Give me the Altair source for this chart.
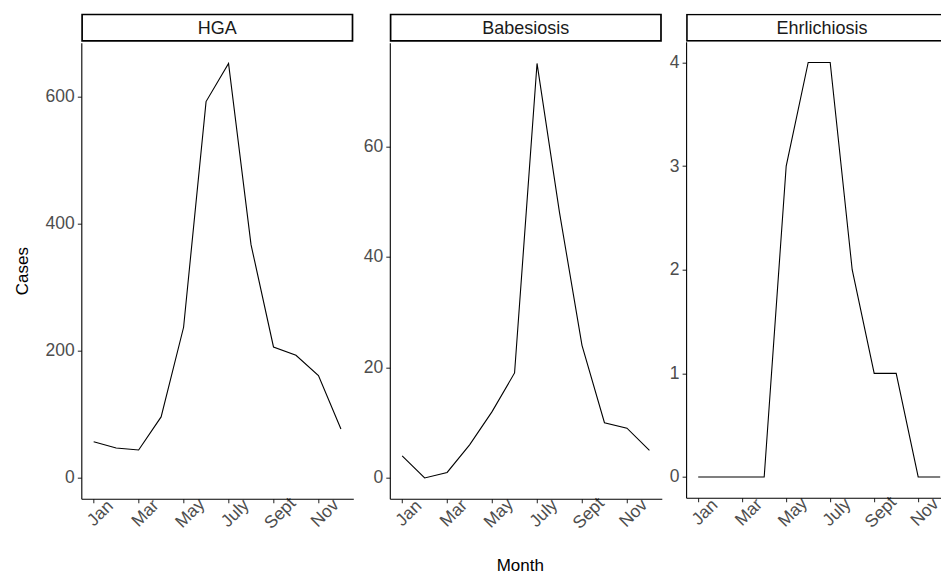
import altair as alt
import pandas as pd

# ---- data ----
months = list(range(1, 13))
month_labels = ["Jan", "Feb", "Mar", "Apr", "May", "June", "July", "Aug", "Sept", "Oct", "Nov", "Dec"]
diseases = ["HGA", "Babesiosis", "Ehrlichiosis"]
hga = [57, 47, 44, 96, 237, 592, 652, 367, 206, 193, 161, 77]
babesiosis = [4, 0, 1, 6, 12, 19, 75, 48, 24, 10, 9, 5]
ehrlichiosis = [0, 0, 0, 0, 3, 4, 4, 2, 1, 1, 0, 0]
series = [hga, babesiosis, ehrlichiosis]
y_ticks = [[0, 200, 400, 600], [0, 20, 40, 60], [0, 1, 2, 3, 4]]
x_ticks = [1, 3, 5, 7, 9, 11]

FONT = "Liberation Sans, Arial, sans-serif"
PW = 272      # panel width
PH = 456      # panel height
SH = 28       # strip height
DPM = PW / 12.1  # px per month

label_expr = "[" + ",".join("'%s'" % m for m in month_labels) + "][datum.value - 1]"


def column(name, vals, ticks, width, dpm, show_ytitle, show_xtitle):
    df = pd.DataFrame({"Month": months, "Cases": vals, "Disease": name})
    lo = min(0, min(vals))
    hi = max(vals)
    pad = 0.05 * (hi - lo)
    xmax = 0.45 + width / dpm
    clipped = width < PW

    xaxis = alt.Axis(
        values=x_ticks, labelExpr=label_expr, labelAngle=-45,
        labelAlign="center", labelBaseline="top", labelPadding=4,
        title="Month" if show_xtitle else None,
        titlePadding=26,
        **({"titleX": 130} if show_xtitle else {}),
    )
    yaxis = alt.Axis(values=ticks, title="Cases" if show_ytitle else None,
                     titlePadding=14, labelPadding=3)

    line = alt.Chart(df).mark_line(color="black", strokeWidth=1.1, clip=clipped).encode(
        x=alt.X("Month:Q", scale=alt.Scale(domain=[0.45, xmax], nice=False, zero=False), axis=xaxis),
        y=alt.Y("Cases:Q", scale=alt.Scale(domain=[lo - pad, hi + pad], nice=False, zero=False), axis=yaxis),
    ).properties(width=width, height=PH)

    sdf = pd.DataFrame({"Disease": [name]})
    rect = alt.Chart(sdf).mark_rect(
        fill="white", stroke="black", strokeWidth=1.7, clip=clipped
    ).encode(
        x=alt.value(0.8), x2=alt.value(PW + 10 if clipped else width - 0.8),
        y=alt.value(0.8), y2=alt.value(SH - 0.8),
    )
    txt = alt.Chart(sdf).mark_text(
        font=FONT, fontSize=18, color="#1a1a1a", baseline="middle", align="center"
    ).encode(text="Disease:N", x=alt.value(PW / 2), y=alt.value(SH / 2 + 1))
    strip = alt.layer(rect, txt).properties(width=width, height=SH)
    return alt.vconcat(strip, line, spacing=0)


c1 = column(diseases[0], series[0], y_ticks[0], PW, DPM, True, False)
c2 = column(diseases[1], series[1], y_ticks[1], PW, DPM, False, True)
c3 = column(diseases[2], series[2], y_ticks[2], 256, 22.0, False, False)

chart = alt.hconcat(alt.hconcat(c1, c2, spacing=8.5), c3, spacing=6.8).properties(
    padding={"left": 4.3, "top": 4.7, "right": -1, "bottom": 0},
    background="white",
).configure_view(stroke=None).configure_axis(
    grid=False,
    domainColor="black", domainWidth=1.1,
    tickColor="#333333", tickWidth=1.1, tickSize=4,
    labelColor="#4d4d4d", labelFont=FONT, labelFontSize=17.5,
    titleColor="black", titleFont=FONT, titleFontSize=17, titleFontWeight="normal",
)

chart.save("out.html", embed_options={"renderer": "svg", "actions": False})
